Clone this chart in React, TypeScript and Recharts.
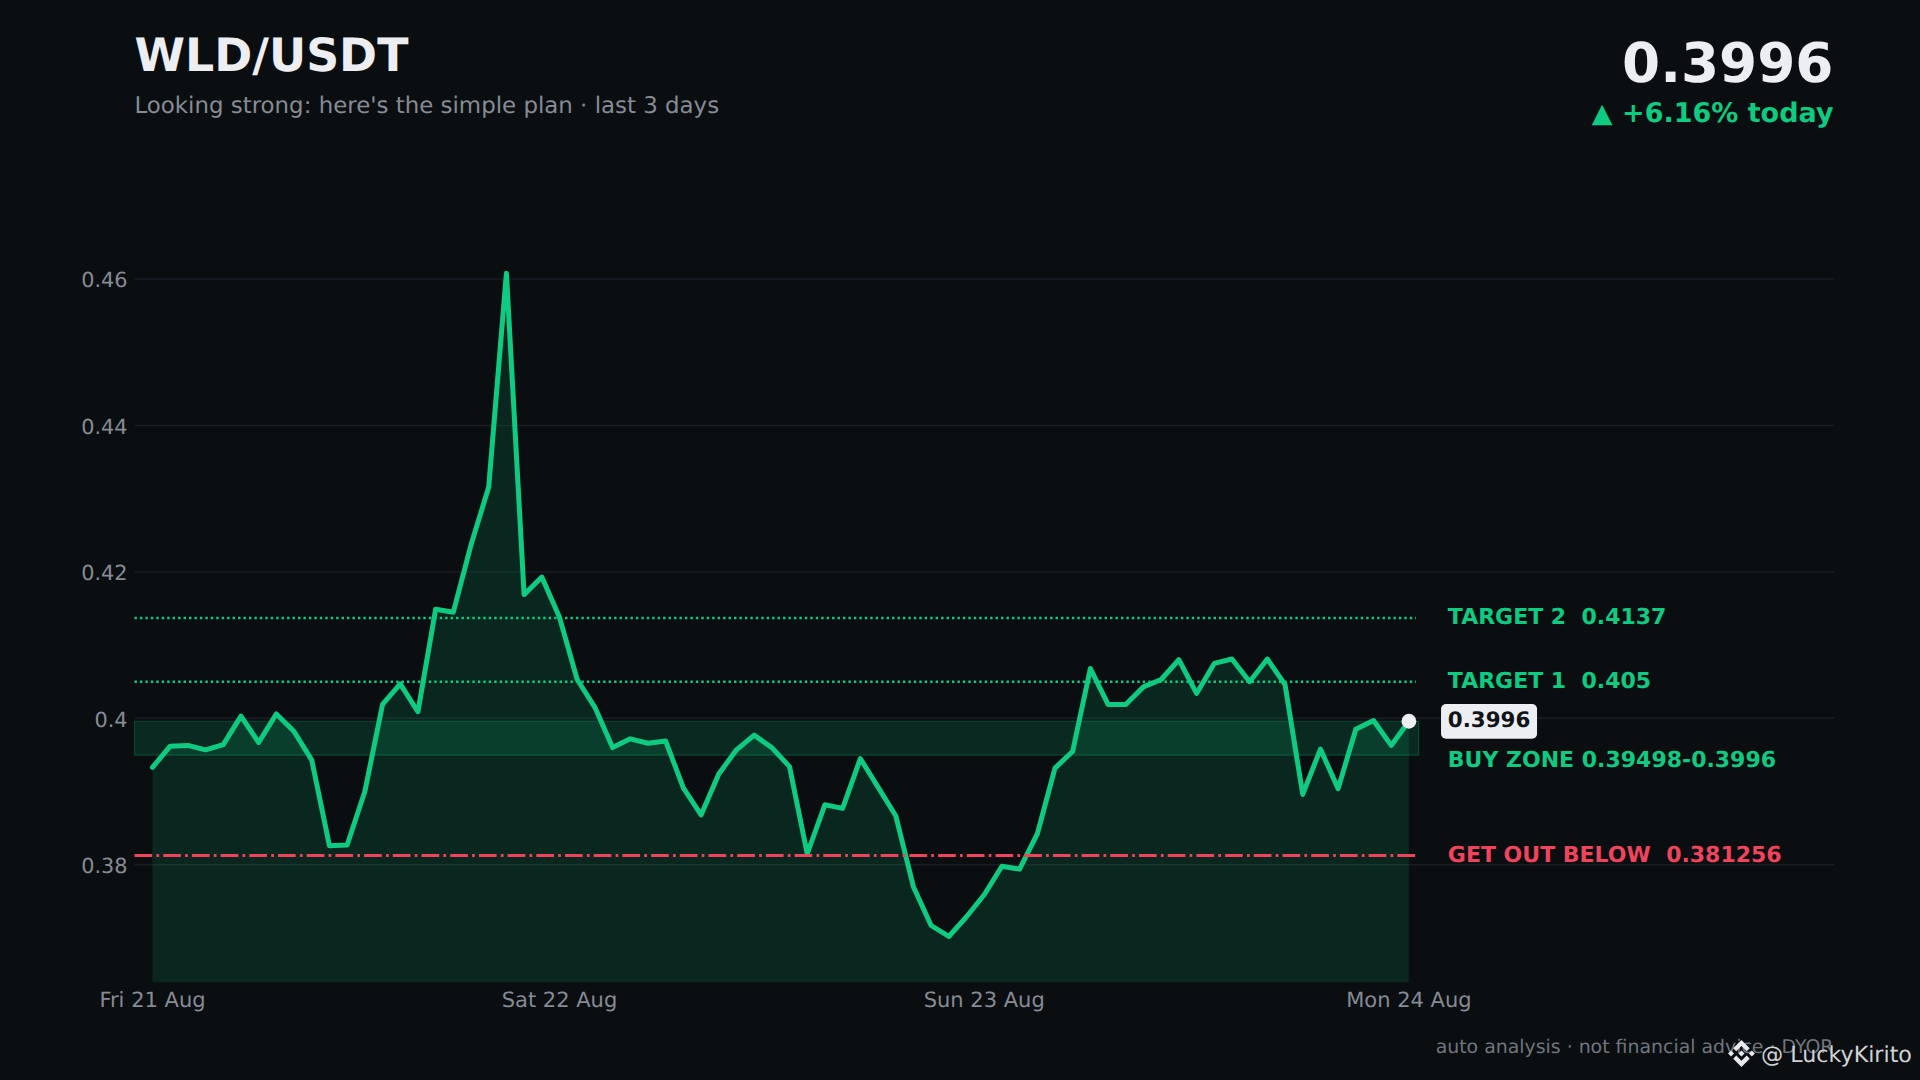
import React from "react";
import { ComposedChart, Area, XAxis, YAxis, CartesianGrid, ReferenceLine, ReferenceArea, ReferenceDot } from "recharts";

const prices = [
  0.3933, 0.3962, 0.3963, 0.3957, 0.3964, 0.4003, 0.3967, 0.4006, 0.3982, 0.3943, 0.3826, 0.3827,
  0.39, 0.4019, 0.4047, 0.4009, 0.4149, 0.4145, 0.4237, 0.4316, 0.4608, 0.4169, 0.4193, 0.4138,
  0.4053, 0.4015, 0.396, 0.3972, 0.3966, 0.3969, 0.3905, 0.3868, 0.3924, 0.3957, 0.3977, 0.396,
  0.3934, 0.3815, 0.3882, 0.3877, 0.3945, 0.3906, 0.3867, 0.377, 0.3717, 0.3702, 0.3729, 0.3759,
  0.3798, 0.3794, 0.3842, 0.3932, 0.3955, 0.4068, 0.4019, 0.4019, 0.4043, 0.4053, 0.408, 0.4034,
  0.4075, 0.4081, 0.405, 0.4081, 0.4046, 0.3896, 0.3958, 0.3904, 0.3985, 0.3997, 0.3963, 0.3996,
];
const xTicks = [0, 23, 47, 71];
const xTickLabels = ["Fri 21 Aug", "Sat 22 Aug", "Sun 23 Aug", "Mon 24 Aug"];
const yTicks = [0.38, 0.4, 0.42, 0.44, 0.46];
const target2 = 0.4137;
const target1 = 0.405;
const zoneLow = 0.39498;
const zoneHigh = 0.3996;
const stopLevel = 0.381256;
const lastPrice = 0.3996;

const rows = prices.map((price, idx) => ({ idx, price }));

const BG = "#0a0e11";
const GREEN = "#0ecb81";
const RED = "#f0435c";
const MUTED = "#868b94";
const WHITE = "#eceef2";
const FONT = "'DejaVu Sans', sans-serif";
const X_MIN = -1.017;
const X_MAX = 95.05;
const LINE_END = 71.4;
const ZONE_END = 71.55;
const LABEL_X = 73.2;

const levelLabel = (text: string, color: string, dy: number) => (p: any) => (
  <text x={p.cx} y={p.cy + dy} fill={color} fontFamily={FONT} fontWeight={700} fontSize={22} style={{ whiteSpace: "pre" }}>
    {text}
  </text>
);

const pill = (text: string) => (p: any) => (
  <g>
    <rect x={p.cx - 6.8} y={p.cy - 17.3} width={96} height={34.7} rx={5} fill={WHITE} />
    <text x={p.cx} y={p.cy + 5.4} fill="#101317" fontFamily={FONT} fontWeight={700} fontSize={21.4}>
      {text}
    </text>
  </g>
);

const LOGO =
  "M38.73 53.2l24.59-24.58 24.6 24.6 14.3-14.31L63.32 0 24.43 38.9zM0 63.31l14.3-14.31 14.31 14.31-14.31 14.3zM38.73 73.41l24.59 24.59 24.6-24.6 14.31 14.29-38.9 38.91-38.91-38.88-.02-.02zM98.03 63.31l14.3-14.31 14.31 14.3-14.31 14.32zM77.83 63.3L63.32 48.78 52.59 59.51l-1.24 1.23-2.54 2.54 14.51 14.5L77.83 63.3z";

export default function App() {
  return (
    <div style={{ position: "absolute", left: 0, top: 0, width: 1920, height: 1080, background: BG, overflow: "hidden", textRendering: "geometricPrecision" }}>
      <div style={{ position: "absolute", left: 0, top: 0 }}>
        <ComposedChart
          width={1920}
          height={1080}
          data={rows}
          margin={{ top: 205.9, right: 85.5, bottom: 0, left: 0 }}
        >
          <CartesianGrid horizontal vertical={false} horizontalValues={yTicks} stroke="#1a1e24" strokeWidth={1.5} />
          <XAxis
            dataKey="idx"
            type="number"
            domain={[X_MIN, X_MAX]}
            ticks={xTicks}
            interval={0}
            height={97.4}
            tickLine={false}
            axisLine={false}
            allowDataOverflow
            tick={{ fill: MUTED, fontSize: 21, fontFamily: FONT, dy: 1 }}
            tickFormatter={(v: number) => xTickLabels[xTicks.indexOf(v)]}
          />
          <YAxis
            type="number"
            domain={[0.3639, 0.47]}
            ticks={yTicks}
            width={134.5}
            tickLine={false}
            axisLine={false}
            tickMargin={1}
            allowDataOverflow
            tick={{ fill: MUTED, fontSize: 20.8, fontFamily: FONT, dy: 1 }}
            tickFormatter={(v: number) => String(v)}
          />
          <Area
            dataKey="price"
            type="linear"
            baseValue={0.3639}
            stroke={GREEN}
            strokeOpacity={0}
            fill={GREEN}
            fillOpacity={0.135}
            dot={false}
            activeDot={false}
            isAnimationActive={false}
          />
          <ReferenceArea
            x1={X_MIN}
            x2={ZONE_END}
            y1={zoneLow}
            y2={zoneHigh}
            fill={GREEN}
            fillOpacity={0.14}
            stroke={GREEN}
            strokeOpacity={0.25}
            strokeWidth={1.2}
          />
          <ReferenceLine
            segment={[{ x: X_MIN, y: target2 }, { x: LINE_END, y: target2 }]}
            stroke={GREEN}
            strokeWidth={2.4}
            strokeDasharray="2.4 3.05"
          />
          <ReferenceLine
            segment={[{ x: X_MIN, y: target1 }, { x: LINE_END, y: target1 }]}
            stroke={GREEN}
            strokeWidth={2.4}
            strokeDasharray="2.4 3.05"
          />
          <ReferenceLine
            segment={[{ x: X_MIN, y: stopLevel }, { x: LINE_END, y: stopLevel }]}
            stroke={RED}
            strokeWidth={3}
            strokeDasharray="17.7 4.2 2.7 4.1"
          />
          <Area
            dataKey="price"
            type="linear"
            baseValue={0.3639}
            stroke={GREEN}
            strokeWidth={5}
            strokeLinejoin="round"
            strokeLinecap="round"
            fill="none"
            dot={false}
            activeDot={false}
            isAnimationActive={false}
          />
          <ReferenceDot x={71} y={lastPrice} r={7.4} fill={WHITE} stroke="none" />
          <ReferenceDot x={LABEL_X} y={target2} shape={levelLabel("TARGET 2  0.4137", GREEN, 6.2)} />
          <ReferenceDot x={LABEL_X} y={target1} shape={levelLabel("TARGET 1  0.405", GREEN, 6.2)} />
          <ReferenceDot x={LABEL_X} y={lastPrice} shape={pill("0.3996")} />
          <ReferenceDot x={LABEL_X} y={zoneLow} shape={levelLabel("BUY ZONE 0.39498-0.3996", GREEN, 11.6)} />
          <ReferenceDot x={LABEL_X} y={stopLevel} shape={levelLabel("GET OUT BELOW  0.381256", RED, 6.2)} />
        </ComposedChart>
      </div>
      <svg width={1920} height={1080} style={{ position: "absolute", left: 0, top: 0, pointerEvents: "none" }}>
        <text x={134.5} y={70.6} fill={WHITE} fontFamily={FONT} fontWeight={700} fontSize={45.8}>WLD/USDT</text>
        <text x={134.5} y={113.4} fill={MUTED} fontFamily={FONT} fontSize={22.9}>Looking strong: here's the simple plan · last 3 days</text>
        <text x={1833.5} y={82.2} textAnchor="end" fill={WHITE} fontFamily={FONT} fontWeight={700} fontSize={54.8}>0.3996</text>
        <text x={1833.5} y={121.7} textAnchor="end" fill={GREEN} fontFamily={FONT} fontWeight={700} fontSize={27}>▲ +6.16% today</text>
        <text x={1833.5} y={1052.7} textAnchor="end" fill="#70757e" fontFamily={FONT} fontSize={18.9}>auto analysis · not financial advice · DYOR</text>
        <path d={LOGO} fill="#e6e8ec" transform="translate(1728 1040) scale(0.2127)" />
        <text x={1761} y={1061.7} fill="#d0d2d6" fontFamily={FONT} fontSize={22.2}>@ LuckyKirito</text>
      </svg>
    </div>
  );
}
